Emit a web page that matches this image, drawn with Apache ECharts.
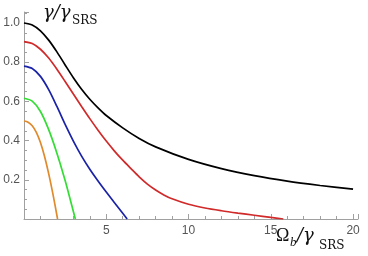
<!DOCTYPE html>
<html><head><meta charset="utf-8">
<script src="https://cdn.jsdelivr.net/npm/echarts@6/dist/echarts.min.js"></script>
<style>html,body{margin:0;padding:0;background:#fff}#c{width:368px;height:256px}</style>
</head><body><div id="c"></div>
<script>
// Data (x = Omega_b/gamma_SRS, y = gamma/gamma_SRS)
const blackX = [0, 0.5, 1, 1.5, 2, 2.5, 3, 3.5, 4, 4.5, 5, 6, 7, 8, 10, 12, 14, 16, 18, 20];
const blackY = [1.0, 0.99, 0.96, 0.9125, 0.8525, 0.786, 0.721, 0.662, 0.611, 0.567, 0.528, 0.465, 0.411, 0.368, 0.304, 0.257, 0.221, 0.193, 0.171, 0.152];
const redX = [0, 0.5, 1, 1.5, 2, 2.5, 3, 3.5, 4, 4.5, 5, 5.5, 6, 6.5, 7, 7.5, 8, 8.5, 9, 10, 11, 12, 13, 14, 15, 15.76];
const redY = [0.905, 0.895, 0.866, 0.821, 0.764, 0.7015, 0.6375, 0.574, 0.512, 0.453, 0.3975, 0.3465, 0.300, 0.257, 0.215, 0.178, 0.148, 0.123, 0.103, 0.075, 0.056, 0.042, 0.030, 0.019, 0.008, 0];
const blueX = [0, 0.5, 1, 1.5, 2, 2.5, 3, 3.5, 4, 4.5, 5, 5.5, 6, 6.27];
const blueY = [0.78, 0.7675, 0.7275, 0.66, 0.574, 0.4825, 0.3975, 0.321, 0.254, 0.194, 0.1375, 0.083, 0.029, 0];
const greenX = [0, 0.5, 1, 1.5, 2, 2.5, 3, 3.12];
const greenY = [0.616, 0.601, 0.5485, 0.456, 0.336, 0.196, 0.0385, 0];
const orangeX = [0, 0.25, 0.5, 0.75, 1, 1.25, 1.5, 1.75, 2.04];
const orangeY = [0.5, 0.494, 0.476, 0.442, 0.39, 0.319, 0.2315, 0.131, 0];
const xTickLabels = [5, 10, 15, 20];
const yTickLabels = [0.2, 0.4, 0.6, 0.8, 1.0];

function pts(xs, ys) { return xs.map((x, i) => [x, ys[i]]); }
const axisGray = '#a0a0a0';
const labelGray = '#555555';

const chart = echarts.init(document.getElementById('c'), null, {renderer: 'canvas'});
function mkSeries(xs, ys, color) {
  return {type: 'line', data: pts(xs, ys), showSymbol: false, smooth: 0.3,
    lineStyle: {color: color, width: 1.7}, itemStyle: {color: color}, z: 3};
}
chart.setOption({
  animation: false,
  grid: {left: 24, right: 10, top: 12, bottom: 37, containLabel: false},
  xAxis: {
    type: 'value', min: 0, max: 20.3, interval: 5,
    axisLine: {lineStyle: {color: axisGray, width: 1}},
    axisTick: {inside: true, length: 5, lineStyle: {color: axisGray}},
    minorTick: {show: true, splitNumber: 5, length: 3, lineStyle: {color: axisGray}},
    axisLabel: {formatter: v => xTickLabels.some(t => Math.abs(t - v) < 1e-6) ? String(v) : '',
      color: labelGray, fontSize: 12, fontFamily: 'Liberation Sans', margin: 6, showMaxLabel: true},
    splitLine: {show: false}
  },
  yAxis: {
    type: 'value', min: 0, max: 1.056, interval: 0.2,
    axisLine: {show: true, lineStyle: {color: axisGray, width: 1}},
    axisTick: {show: true, inside: true, length: 5, lineStyle: {color: axisGray}},
    minorTick: {show: true, splitNumber: 4, length: 3, lineStyle: {color: axisGray}},
    axisLabel: {formatter: v => yTickLabels.some(t => Math.abs(t - v) < 1e-6) ? v.toFixed(1) : '',
      color: labelGray, fontSize: 12, fontFamily: 'Liberation Sans', margin: 4},
    splitLine: {show: false}
  },
  series: [
    mkSeries(blackX, blackY, '#000000'),
    mkSeries(redX, redY, '#d02a2a'),
    mkSeries(blueX, blueY, '#1a22a8'),
    mkSeries(greenX, greenY, '#33dd33'),
    mkSeries(orangeX, orangeY, '#e08a2c')
  ],
  graphic: [
    {type: 'text', left: 43, top: 4, style: {text: 'γ/γ', font: 'italic 18px "DejaVu Serif"', fill: '#111'}},
    {type: 'text', left: 72, top: 15, style: {text: 'SRS', font: '12px "DejaVu Serif"', fill: '#111'}},
    {type: 'text', left: 276, top: 227, style: {text: 'Ω', font: '18px "Liberation Serif"', fill: '#111'}},
    {type: 'text', left: 290, top: 236, style: {text: 'b', font: 'italic 13px "Liberation Serif"', fill: '#111'}},
    {type: 'text', left: 297, top: 227, style: {text: '/γ', font: 'italic 18px "DejaVu Serif"', fill: '#111'}},
    {type: 'text', left: 319, top: 240, style: {text: 'SRS', font: '12px "DejaVu Serif"', fill: '#111'}}
  ]
});
</script>
</body></html>
